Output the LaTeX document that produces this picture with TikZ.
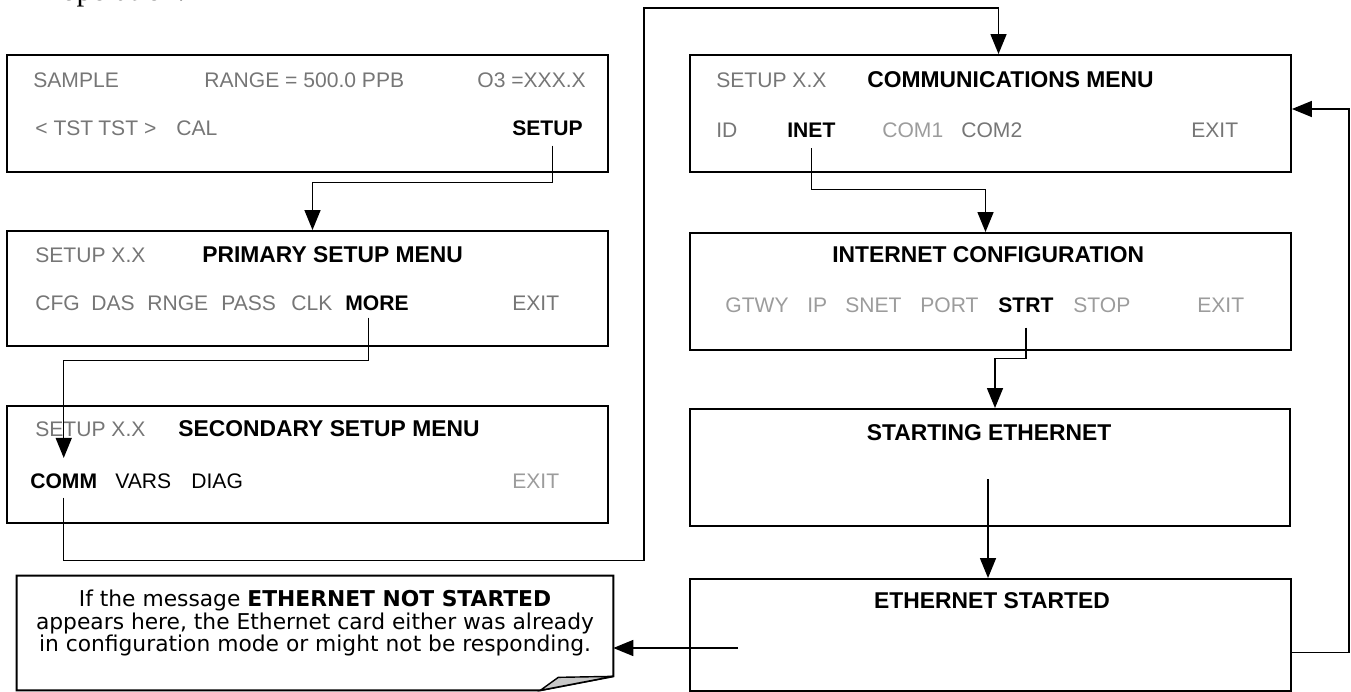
\documentclass[tikz,border=0pt]{standalone}
\usepackage{fontspec}
\setmainfont{Liberation Sans}
\newfontfamily\notefont{DejaVu Sans}
\newfontfamily\pagefont{Liberation Serif}
\usetikzlibrary{arrows.meta,calc}

\definecolor{dimgray}{HTML}{767676}
\definecolor{faintgray}{HTML}{9C9C9C}
\definecolor{foldgray}{HTML}{C8C8C8}

\tikzset{
  panel/.style={draw, line width=1.1pt, inner sep=0pt, minimum width=12.02cm},
  lbl/.style={inner sep=0pt, anchor=base west, font=\fontsize{12}{14}\selectfont},
  dimtxt/.style={lbl, text=dimgray},
  fainttxt/.style={lbl, text=faintgray},
  keytxt/.style={lbl, font=\fontsize{12}{14}\selectfont\bfseries},
  titletxt/.style={lbl, font=\fontsize{13}{15}\selectfont\bfseries},
  flow/.style={line width=0.85pt, -{Triangle[length=0.4cm,width=0.32cm]}}
}

\begin{document}
\begin{tikzpicture}[x=0.02cm, y=-0.02cm]
    \useasboundingbox (0,0) rectangle (1351,692);

    % end of the page text above the figure
    \node[inner sep=0pt, anchor=base west, font=\pagefont\fontsize{17.5}{20}\selectfont] (prevline) at (61,1) {operation.};

    % display panels
    \node[panel, minimum height=2.34cm] (sample) at (307.5,113.5) {};
    \node[panel, minimum height=2.30cm] (primary) at (307.5,288.5) {};
    \node[panel, minimum height=2.34cm] (secondary) at (307.5,464.5) {};
    \node[panel, minimum height=2.34cm] (comms) at (990.5,113.5) {};
    \node[panel, minimum height=2.34cm] (inetcfg) at (990.5,291.5) {};
    \node[panel, minimum height=2.34cm] (starting) at (990,467.5) {};
    \node[panel, minimum height=2.24cm] (started) at (990.5,635) {};

    % note with folded corner
    \node[minimum width=11.92cm, minimum height=2.28cm, inner sep=0pt] (note) at (315,633) {};
    \draw[line width=1.1pt] (note.north west) -- (note.north east) -- ($(note.south east)+(0,-14)$)
      -- ($(note.south east)+(-73,0)$) -- (note.south west) -- cycle;
    \draw[line width=0.8pt, fill=foldgray] ($(note.south east)+(0,-14)$) -- ($(note.south east)+(-55,-13)$)
      -- ($(note.south east)+(-73,0)$) -- cycle;
    \node[align=center, inner sep=0pt, font=\notefont\fontsize{12.4}{12.6}\selectfont] (notetext) at (315,623)
      {If the message \textbf{ETHERNET NOT STARTED}\\appears here, the Ethernet card either was already\\in configuration mode or might not be responding.};

    % SAMPLE panel
    \begin{scope}[every node/.append style={dimtxt}]
      \node (s1) at (33,88) {SAMPLE};
      \node (s2) at (204,88) {RANGE = 500.0 PPB};
      \node (s3) at (477,88) {O3 =XXX.X};
      \node (s4) at (35,136) {< TST};
      \node (s5) at (98,136) {TST >};
      \node (s6) at (176,136) {CAL};
    \end{scope}
    \node[keytxt] (setupkey) at (512,136) {SETUP};

    % PRIMARY SETUP MENU panel
    \node[dimtxt] (p0) at (35,263) {SETUP X.X};
    \node[titletxt] (ptitle) at (202,263) {PRIMARY SETUP MENU};
    \begin{scope}[every node/.append style={dimtxt}]
      \node (p1) at (35,311) {CFG};
      \node (p2) at (91,311) {DAS};
      \node (p3) at (147,311) {RNGE};
      \node (p4) at (221,311) {PASS};
      \node (p5) at (291,311) {CLK};
      \node (p6) at (512,311) {EXIT};
    \end{scope}
    \node[keytxt] (morekey) at (345,311) {MORE};

    % SECONDARY SETUP MENU panel
    \node[dimtxt] (q0) at (35,436) {SETUP X.X};
    \node[titletxt] (qtitle) at (178,436) {SECONDARY SETUP MENU};
    \node[keytxt] (commkey) at (30,488) {COMM};
    \node[lbl] (q1) at (115,488) {VARS};
    \node[lbl] (q2) at (191,488) {DIAG};
    \node[fainttxt] (q3) at (512,488) {EXIT};

    % COMMUNICATIONS MENU panel
    \node[dimtxt] (c0) at (716,88) {SETUP X.X};
    \node[titletxt] (ctitle) at (867,88) {COMMUNICATIONS MENU};
    \node[dimtxt] (c1) at (716,138) {ID};
    \node[keytxt] (inetkey) at (787,138) {INET};
    \node[fainttxt] (c2) at (882,138) {COM1};
    \node[dimtxt] (c3) at (961,138) {COM2};
    \node[dimtxt] (c4) at (1191,138) {EXIT};

    % INTERNET CONFIGURATION panel
    \node[titletxt] (ititle) at (832,263) {INTERNET CONFIGURATION};
    \begin{scope}[every node/.append style={fainttxt}]
      \node (i1) at (725,313) {GTWY};
      \node (i2) at (807,313) {IP};
      \node (i3) at (845,313) {SNET};
      \node (i4) at (920,313) {PORT};
      \node (i5) at (1073,313) {STOP};
      \node (i6) at (1197,313) {EXIT};
    \end{scope}
    \node[keytxt] (strtkey) at (998,313) {STRT};

    % status panels
    \node[titletxt, anchor=base] (tstarting) at (989,440) {STARTING ETHERNET};
    \node[titletxt, anchor=base] (tstarted) at (992,608) {ETHERNET STARTED};
    \coordinate (waitpt) at (988,479);
    \coordinate (replypt) at (738,648);
    \coordinate (uppt) at (644,8);

    % connectors
    \draw[flow] ([xshift=0.1cm,yshift=-0.18cm]setupkey.south) -- ++(0,37) -| ([xshift=0.1cm]primary.north);
    \draw[flow] ([xshift=-0.17cm,yshift=-0.12cm]morekey.south) -- ++(0,43) -| ([yshift=0.3cm]commkey.north);
    \draw[flow] ([yshift=-0.18cm]commkey.south) -- ++(0,63) -| (uppt) -| ([xshift=0.16cm]comms.north);
    \draw[flow] ([yshift=-0.2cm]inetkey.south) -- ++(0,41) -| ([xshift=-0.1cm]inetcfg.north);
    \draw[flow] ([yshift=-0.28cm]strtkey.south) -- ++(0,31) -| ([xshift=0.1cm]starting.north);
    \draw[flow] (waitpt) -- (waitpt |- started.north);
    \draw[flow] (replypt) -- (replypt -| note.east);
    \draw[flow] ([yshift=-0.35cm]started.east) -- ++(57,0) |- ([yshift=0.09cm]comms.east);

\end{tikzpicture}
\end{document}
